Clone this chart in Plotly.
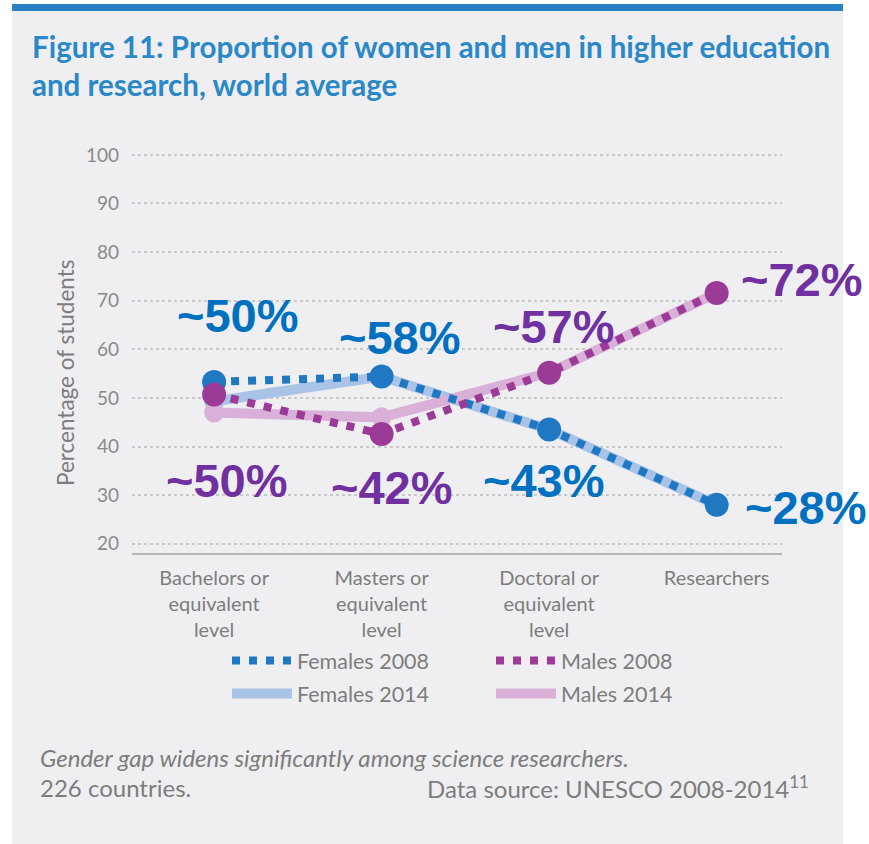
import plotly.graph_objects as go

categories = ["Bachelors or<br>equivalent<br>level", "Masters or<br>equivalent<br>level",
              "Doctoral or<br>equivalent<br>level", "Researchers"]
females_2008 = [53.3, 54.4, 43.5, 28.0]
males_2008 = [50.7, 42.6, 55.2, 71.6]
females_2014 = [49.3, 54.4, 43.5, 28.0]
males_2014 = [47.0, 46.0, 55.2, 71.6]
y_ticks = [20, 30, 40, 50, 60, 70, 80, 90, 100]

# callout labels: text, colour, category index, value, horizontal pixel shift
callout_text = ["~50%", "~58%", "~57%", "~72%", "~50%", "~42%", "~43%", "~28%"]
callout_x = [0.14, 1.11, 2.03, 3, 0.08, 1.06, 1.97, 3]
callout_y = [66.9, 62.4, 64.7, 74.4, 33.0, 31.6, 33.0, 27.5]
callout_shift = [0, 0, 0, 85, 0, 0, 0, 89]
callout_col = ["blue", "blue", "purple", "purple", "purple", "purple", "blue", "blue"]

W, H = 869, 844
L, R, T, B = 132, 782, 150, 553
xi = list(range(len(categories)))


def px(x):
    return (x - L) / (R - L)


def py(y):
    return 1 - (y - T) / (B - T)


BLUE = "#1f78c1"
PURPLE = "#9c3a98"
LBLUE = "#a9c3e6"
LPINK = "#d9b0d8"
GRAY = "#7d7d7d"
FONT = "Lato, Open Sans, sans-serif"

fig = go.Figure()

# 2014 solid lines (below)
fig.add_trace(go.Scatter(x=xi, y=females_2014, mode="lines", name="Females 2014",
                         line=dict(color=LBLUE, width=10), legend="legend", legendgroup="f14"))
fig.add_trace(go.Scatter(x=xi, y=males_2014, mode="lines", name="Males 2014",
                         line=dict(color=LPINK, width=10), legend="legend2", legendgroup="m14"))
fig.add_trace(go.Scatter(x=xi, y=females_2014, mode="markers", showlegend=False,
                         marker=dict(color=LBLUE, size=20)))
fig.add_trace(go.Scatter(x=xi, y=males_2014, mode="markers", showlegend=False,
                         marker=dict(color=LPINK, size=20)))
# 2008 dotted lines
fig.add_trace(go.Scatter(x=xi, y=females_2008, mode="lines", name="Females 2008",
                         line=dict(color=BLUE, width=8, dash="8px,9px"), legend="legend",
                         legendgroup="f08", legendrank=1))
fig.add_trace(go.Scatter(x=xi, y=males_2008, mode="lines", name="Males 2008",
                         line=dict(color=PURPLE, width=8, dash="8px,9px"), legend="legend2",
                         legendgroup="m08", legendrank=1))
fig.add_trace(go.Scatter(x=xi, y=females_2008, mode="markers", showlegend=False,
                         marker=dict(color=BLUE, size=24)))
fig.add_trace(go.Scatter(x=xi, y=males_2008, mode="markers", showlegend=False,
                         marker=dict(color=PURPLE, size=24)))

annotations = []
for t, x, y, s, c in zip(callout_text, callout_x, callout_y, callout_shift, callout_col):
    annotations.append(dict(text="<b>" + t + "</b>", x=x, y=y, xref="x", yref="y", xshift=s,
                            showarrow=False,
                            font=dict(family="Liberation Sans, Arial, sans-serif", size=47,
                                      color="#0070c0" if c == "blue" else "#7030a0"),
                            xanchor="center", yanchor="middle"))

# title
annotations.append(dict(text="<b>Figure 11: Proportion of women and men in higher education<br>and research, world average</b>",
                        x=px(30), y=py(27), xref="paper", yref="paper", xanchor="left", yanchor="top",
                        align="left", showarrow=False,
                        font=dict(family=FONT, size=29.5, color="#2b88c8")))
# y-axis title
annotations.append(dict(text="Percentage of students", x=px(65), y=py(373), xref="paper", yref="paper",
                        textangle=-90, showarrow=False, xanchor="center", yanchor="middle",
                        font=dict(family=FONT, size=22.5, color=GRAY)))
# captions
annotations.append(dict(text="<i>Gender gap widens significantly among science researchers.</i>",
                        x=px(38), y=py(757), xref="paper", yref="paper", xanchor="left", yanchor="middle",
                        showarrow=False, font=dict(family=FONT, size=24, color=GRAY)))
annotations.append(dict(text="226 countries.", x=px(38), y=py(787), xref="paper", yref="paper",
                        xanchor="left", yanchor="middle", showarrow=False,
                        font=dict(family=FONT, size=24, color=GRAY)))
annotations.append(dict(text="Data source: UNESCO 2008-2014<sup>11</sup>", x=px(425), y=py(787),
                        xref="paper", yref="paper", xanchor="left", yanchor="middle", showarrow=False,
                        font=dict(family=FONT, size=24, color=GRAY)))

shapes = [
    dict(type="rect", xref="paper", yref="paper", x0=px(12), x1=px(843), y0=py(844), y1=py(10),
         fillcolor="#efeff1", line=dict(width=0), layer="below"),
    dict(type="rect", xref="paper", yref="paper", x0=px(12), x1=px(843), y0=py(11), y1=py(4),
         fillcolor="#2a80c5", line=dict(width=0), layer="below"),
]

fig.update_layout(
    width=W, height=H,
    margin=dict(l=L, r=W - R, t=T, b=H - B),
    paper_bgcolor="white", plot_bgcolor="rgba(0,0,0,0)",
    font=dict(family=FONT, color=GRAY),
    annotations=annotations, shapes=shapes,
    xaxis=dict(range=[-0.49, 3.39], tickvals=xi, ticktext=categories, showgrid=False,
               zeroline=False, showline=True, linecolor="#b5b5b5", linewidth=2, ticks="",
               ticklabelstandoff=6,
               tickfont=dict(family=FONT, size=20, color=GRAY), fixedrange=True),
    yaxis=dict(range=[18.1, 101], tickvals=y_ticks, showgrid=True, gridcolor="#c9c9c9",
               griddash="dot", gridwidth=2, zeroline=False, showline=False, ticks="",
               ticklabelstandoff=12,
               tickfont=dict(family=FONT, size=19, color="#8a8a8a"), fixedrange=True),
    legend=dict(x=px(227), y=py(640), xanchor="left", yanchor="top", orientation="v",
                bgcolor="rgba(0,0,0,0)", itemwidth=60, tracegroupgap=2,
                font=dict(family=FONT, size=21.5, color=GRAY), traceorder="grouped"),
    legend2=dict(x=px(491), y=py(640), xanchor="left", yanchor="top", orientation="v",
                 bgcolor="rgba(0,0,0,0)", itemwidth=60, tracegroupgap=2,
                 font=dict(family=FONT, size=21.5, color=GRAY), traceorder="grouped"),
    showlegend=True,
)

fig.write_html("out.html", config={"displayModeBar": False},
               post_script="document.body.style.margin='0px';")
